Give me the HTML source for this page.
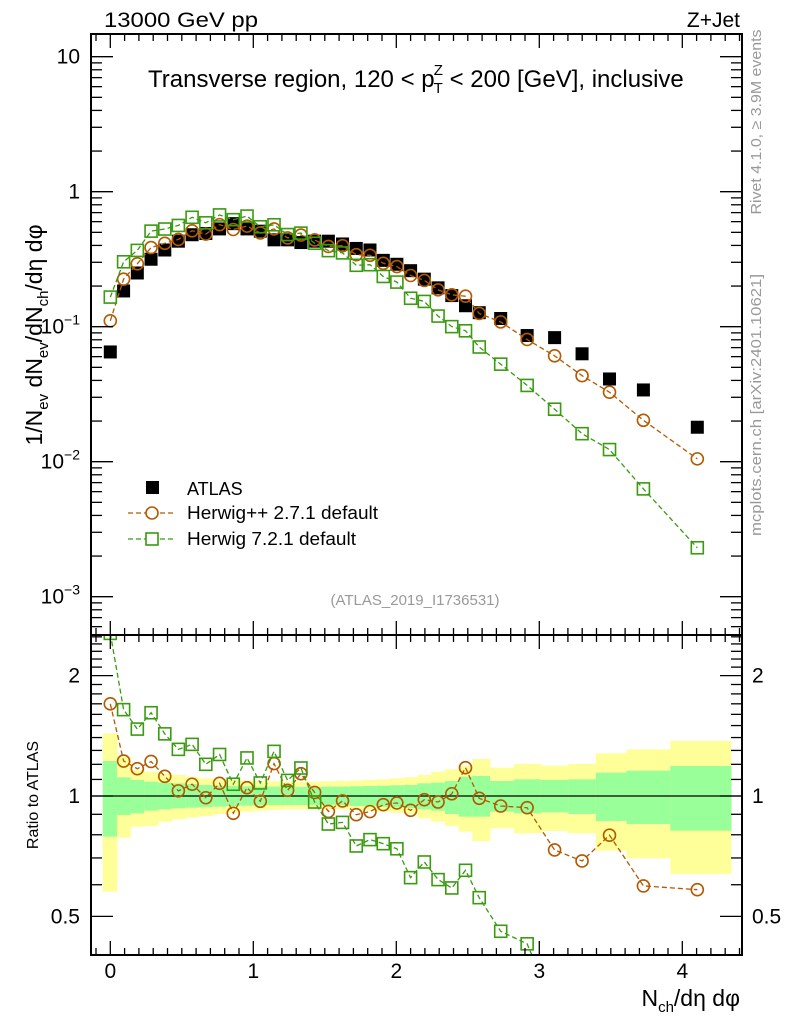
<!DOCTYPE html>
<html><head><meta charset="utf-8"><style>
html,body{margin:0;padding:0;background:#fff;overflow:hidden;width:786px;height:1024px;}
svg{display:block;font-family:"Liberation Sans",sans-serif;}
</style></head><body>
<svg id="c" width="786" height="1024" viewBox="0 0 786 1024" xmlns="http://www.w3.org/2000/svg">
<text x="104" y="27" font-size="21" textLength="154" lengthAdjust="spacingAndGlyphs">13000 GeV pp</text>
<text x="740" y="27" font-size="21" text-anchor="end">Z+Jet</text>
<text x="148" y="87" font-size="24">Transverse region, 120 &lt; p<tspan font-size="15" dx="-1" dy="6">T</tspan><tspan font-size="15" dx="-9" dy="-18">Z</tspan><tspan dy="12"> &lt; 200 [GeV], inclusive</tspan></text>
<text transform="translate(42,335) rotate(-90)" font-size="23" text-anchor="middle">1/N<tspan font-size="15" dy="6">ev</tspan><tspan dy="-6"> dN</tspan><tspan font-size="15" dy="6">ev</tspan><tspan dy="-6">/dN</tspan><tspan font-size="15" dy="6">ch</tspan><tspan dy="-6">/dη dφ</tspan></text>
<text transform="translate(761,122) rotate(-90)" font-size="15" fill="#999" text-anchor="middle" textLength="185" lengthAdjust="spacingAndGlyphs">Rivet 4.1.0, ≥ 3.9M events</text>
<text transform="translate(761,405) rotate(-90)" font-size="15" fill="#999" text-anchor="middle" textLength="262" lengthAdjust="spacingAndGlyphs">mcplots.cern.ch [arXiv:2401.10621]</text>
<text x="415" y="605" font-size="15" fill="#999" text-anchor="middle">(ATLAS_2019_I1736531)</text>
<text transform="translate(38,795) rotate(-90)" font-size="16" text-anchor="middle">Ratio to ATLAS</text>
<text x="740" y="1006" font-size="23" text-anchor="end">N<tspan font-size="15" dy="6">ch</tspan><tspan dy="-6">/dη dφ</tspan></text>
<g id="legend">
<rect x="146" y="481" width="13" height="13" fill="#000"/>
<text x="187" y="495" font-size="18">ATLAS</text>
<line x1="128" y1="513" x2="175" y2="513" stroke="#b35900" stroke-width="1.3" stroke-dasharray="5,3"/>
<circle cx="152" cy="513" r="6" fill="#fff" stroke="#b35900" stroke-width="1.6"/>
<text x="187" y="519" font-size="18" textLength="191" lengthAdjust="spacingAndGlyphs">Herwig++ 2.7.1 default</text>
<line x1="128" y1="539" x2="175" y2="539" stroke="#3a9a10" stroke-width="1.3" stroke-dasharray="5,3"/>
<rect x="146" y="533" width="12" height="12" fill="#fff" stroke="#3a9a10" stroke-width="1.6"/>
<text x="187" y="545" font-size="18" textLength="169" lengthAdjust="spacingAndGlyphs">Herwig 7.2.1 default</text>
</g>
</svg>
<script>
const xs=[0,0.093,0.189,0.285,0.381,0.476,0.572,0.668,0.764,0.860,0.956,1.049,1.145,1.240,1.333,1.429,1.525,1.624,1.720,1.816,1.909,2.004,2.100,2.196,2.292,2.388,2.484,2.580,2.730,2.915,3.107,3.299,3.491,3.728,4.105];
const atlas=[0.065,0.184,0.25,0.316,0.37,0.43,0.48,0.49,0.53,0.58,0.53,0.51,0.44,0.44,0.42,0.43,0.43,0.41,0.38,0.37,0.31,0.29,0.26,0.225,0.194,0.17,0.143,0.127,0.115,0.086,0.083,0.063,0.041,0.034,0.018];
const ratioHpp=[1.70,1.223,1.17,1.22,1.12,1.03,1.07,0.99,1.076,0.905,1.049,0.97,1.205,1.033,1.137,1.021,0.915,0.972,0.898,0.914,0.951,0.961,0.921,0.979,0.966,1.013,1.177,0.987,0.944,0.935,0.733,0.688,0.798,0.596,0.583];
const ratioH7=[2.55,1.644,1.47,1.615,1.43,1.308,1.346,1.2,1.27,1.07,1.245,1.078,1.293,1.094,1.175,0.966,0.851,0.859,0.75,0.778,0.76,0.738,0.625,0.684,0.618,0.589,0.652,0.557,0.459,0.427,0.295,0.256,0.30,0.185,0.128];
const bandZ=[[40,515,123,350],[110,353,172,285],[150,320,180,280],[155,318,185,272],[160,305,188,268],[165,298,190,265],[170,292,192,263],[175,288,195,262],[178,282,197,260],[180,278,198,258],[182,275,199,257],[183,272,200,256],[184,270,200,255],[185,268,201,255],[185,268,201,255],[185,268,201,255],[184,268,200,255],[183,268,200,256],[182,270,199,258],[180,272,198,259],[178,275,197,261],[175,278,196,262],[172,282,195,264],[165,295,190,268],[155,305,188,272],[148,318,183,282],[137,335,170,290],[117,363,168,290],[143,325,183,275],[132,340,178,280],[137,333,180,277],[132,340,178,282],[100,392,158,303],[88,415,152,312],[63,462,138,332]];
const xTicks=[0,1,2,3,4];
const yTicksMain=[1,0,-1,-2,-3];
const ratioTicks=[2,1,0.5];

const svg=document.getElementById('c');const NS='http://www.w3.org/2000/svg';
function el(t,a,p){const e=document.createElementNS(NS,t);for(const k in a)e.setAttribute(k,a[k]);(p||svg).appendChild(e);return e;}
const L=91,R=742,T1=34,B1=635,T2=635,B2=955;
const X=v=>110.3+143*v;
const YM=v=>191.7-135*Math.log10(v);
const YR=v=>796-400*Math.log10(v);
const gBand=el('g',{});
const edges=[-0.053];for(let i=0;i<xs.length-1;i++)edges.push((xs[i]+xs[i+1])/2);edges.push(4.34);
const zr=z=>Math.pow(10,-(z-228)/1200);
bandZ.forEach((b,i)=>{
 const x1=X(edges[i]),x2=X(edges[i+1]);
 const y=el('rect',{x:x1,y:YR(zr(b[0])),width:x2-x1+0.5,height:YR(zr(b[1]))-YR(zr(b[0])),fill:'#ffff99'},gBand);
 
 const g=el('rect',{x:x1,y:YR(zr(b[2])),width:x2-x1+0.5,height:YR(zr(b[3]))-YR(zr(b[2])),fill:'#99ff99'},gBand);
 
});
const one=el('line',{x1:L,x2:R,y1:YR(1),y2:YR(1),stroke:'#000','stroke-width':1.3});

const defs=el('defs',{});
const c1=el('clipPath',{id:'cm'},defs);el('rect',{x:L,y:T1,width:R-L,height:B1-T1},c1);
const c2=el('clipPath',{id:'cr'},defs);el('rect',{x:L,y:T2,width:R-L,height:B2-T2},c2);
function series(vals,yf,color,shape,clip,name){
 const g=el('g',{'clip-path':'url(#'+clip+')'});
 
 const pts=vals.map((v,i)=>X(xs[i]).toFixed(1)+','+yf(v).toFixed(1)).join(' ');
 if(shape!=='fill'){const pl=el('polyline',{points:pts,fill:'none',stroke:color,'stroke-width':1.3,'stroke-dasharray':'5,3'},g);
  }
 vals.forEach((v,i)=>{const cx=X(xs[i]),cy=yf(v);let m;
  if(shape==='fill')m=el('rect',{x:cx-6.5,y:cy-6.5,width:13,height:13,fill:'#000'},g);
  else if(shape==='circle')m=el('circle',{cx:cx,cy:cy,r:6,fill:'none',stroke:color,'stroke-width':1.6},g);
  else m=el('rect',{x:cx-6,y:cy-6,width:12,height:12,fill:'none',stroke:color,'stroke-width':1.6},g);
  });
}
const hpp=atlas.map((a,i)=>a*ratioHpp[i]);
const h7=atlas.map((a,i)=>a*ratioH7[i]);
series(atlas,YM,'#000','fill','cm','atlas-data');
series(hpp,YM,'#b35900','circle','cm','herwigpp-main');
series(h7,YM,'#3a9a10','square','cm','herwig7-main');
series(ratioHpp,YR,'#b35900','circle','cr','herwigpp-ratio');
series(ratioH7,YR,'#3a9a10','square','cr','herwig7-ratio');
[[T1,B1,'main-frame'],[T2,B2,'ratio-frame']].forEach(f=>{const r=el('rect',{x:L,y:f[0],width:R-L,height:f[1]-f[0],fill:'none',stroke:'#000','stroke-width':2});
 });
const tg=el('g',{stroke:'#000','stroke-width':1.3});
for(let v=-0.1;v<=4.4;v+=0.1){const vv=Math.round(v*10)/10;const maj=Math.abs(vv-Math.round(vv))<1e-6;const l=maj?14:7;const x=X(vv);
 [[T1,1],[B1,-1],[T2,1],[B2,-1]].forEach(p=>el('line',{x1:x,x2:x,y1:p[0],y2:p[0]+p[1]*l},tg));}
xTicks.forEach(v=>{const t=el('text',{x:X(v),y:978,'font-size':21,'text-anchor':'middle'});t.textContent=v;
 });
for(let d=-4;d<=1;d++)for(let m=1;m<10;m++){const v=m*Math.pow(10,d);const y=YM(v);if(y<T1||y>B1)continue;const l=m===1?22:11;
 el('line',{x1:L,x2:L+l,y1:y,y2:y},tg);el('line',{x1:R,x2:R-l,y1:y,y2:y},tg);}
yTicksMain.forEach(e=>{const y=YM(Math.pow(10,e));const t=el('text',{x:80,y:y+7,'font-size':21,'text-anchor':'end'});
 if(e===1)t.textContent='10';else if(e===0)t.textContent='1';else{t.textContent='10';const s=el('tspan',{'font-size':14,dy:-9},t);s.textContent='\u2212'+(-e);}
 });
for(let v=0.4;v<=2.55;v+=0.1){const vv=Math.round(v*10)/10;const y=YR(vv);if(y<T2||y>B2)continue;const maj=(vv===0.5||vv===1||vv===2);const l=maj?22:11;
 el('line',{x1:L,x2:L+l,y1:y,y2:y},tg);el('line',{x1:R,x2:R-l,y1:y,y2:y},tg);}
ratioTicks.forEach(v=>{[[80,'end'],[752,'start']].forEach(p=>{const t=el('text',{x:p[0],y:YR(v)+7,'font-size':21,'text-anchor':p[1]});t.textContent=v;
 });});
</script>
</body></html>
